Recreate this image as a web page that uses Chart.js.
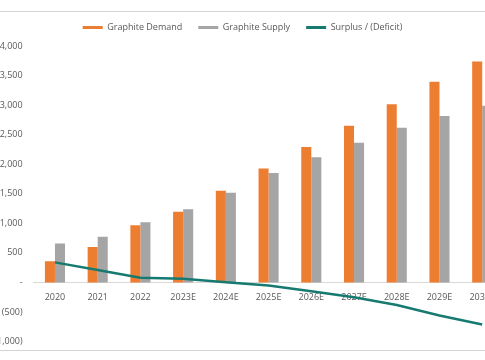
<!DOCTYPE html>
<html>
<head>
<meta charset="utf-8">
<script src="https://cdn.jsdelivr.net/npm/chart.js@4.4.0/dist/chart.umd.min.js"></script>
<style>
  html, body { margin: 0; padding: 0; background: #fff; overflow: hidden; }
  body { width: 485px; height: 360px; position: relative; }
  .frame { position: absolute; left: 0; top: 11px; width: 485px; height: 338px;
    border-top: 1px solid #d4d4d4; border-bottom: 1px solid #d4d4d4; }
  .wrap { position: absolute; left: -20px; top: 7px; width: 525px; height: 351px; }
</style>
</head>
<body>
<div class="frame"></div>
<div class="wrap"><canvas id="chart"></canvas></div>
<script>
const years = ['2020', '2021', '2022', '2023E', '2024E', '2025E', '2026E', '2027E', '2028E', '2029E', '2030E'];
const demand = [360, 600, 966, 1198, 1550, 1930, 2290, 2650, 3015, 3395, 3736];
const supply = [660, 772, 1017, 1238, 1516, 1852, 2120, 2365, 2618, 2816, 2990];
const surplus = [340, 210, 80, 65, 5, -51, -150, -250, -380, -560, -710];

const txt = '#595959';
const font = { family: '"Open Sans", "Noto Sans", sans-serif', size: 9 };

function fmt(v) {
  if (v === 0) return '-';
  const s = Math.abs(v).toLocaleString('en-US');
  return v < 0 ? '(' + s + ')' : s;
}

// a bit more room under the legend
const legendGap = {
  id: 'legendGap',
  beforeInit(chart) {
    const fit = chart.legend.fit;
    chart.legend.fit = function () { fit.call(this); this.height += 4; };
  }
};

new Chart(document.getElementById('chart'), {
  type: 'bar',
  data: {
    labels: years,
    datasets: [
      { label: 'Graphite Demand', data: demand, backgroundColor: '#ED7D31', order: 1,
        categoryPercentage: 0.47, barPercentage: 1 },
      { label: 'Graphite Supply', data: supply, backgroundColor: '#A5A5A5', order: 1,
        categoryPercentage: 0.47, barPercentage: 1 },
      { type: 'line', label: 'Surplus / (Deficit)', data: surplus, borderColor: '#167A70',
        backgroundColor: '#167A70', borderWidth: 2.5, pointRadius: 0, tension: 0, order: 0 }
    ]
  },
  options: {
    responsive: true,
    maintainAspectRatio: false,
    animation: false,
    layout: { padding: { top: 0, right: 0, bottom: 5, left: 0 } },
    plugins: {
      tooltip: { enabled: false },
      legend: {
        position: 'top',
        labels: {
          color: txt, font: font, boxWidth: 20, boxHeight: 3, padding: 16,
          sort: (a, b) => a.datasetIndex - b.datasetIndex,
          generateLabels(chart) {
            const items = Chart.defaults.plugins.legend.labels.generateLabels(chart);
            items.forEach(it => { it.lineWidth = 0; });
            return items;
          }
        }
      }
    },
    scales: {
      x: {
        position: { y: 0 },
        grid: { display: false, drawTicks: false },
        border: { display: true, color: '#d9d9d9', width: 1 },
        ticks: { color: txt, font: font, padding: 10, maxRotation: 0, autoSkip: false }
      },
      y: {
        min: -1000, max: 4000,
        grid: { display: false, drawTicks: false },
        border: { display: false },
        ticks: { stepSize: 500, color: txt, font: font, padding: 11, callback: v => fmt(v) },
        afterFit(s) { s.width = 53.6; }
      }
    }
  },
  plugins: [legendGap]
});
</script>
</body>
</html>
